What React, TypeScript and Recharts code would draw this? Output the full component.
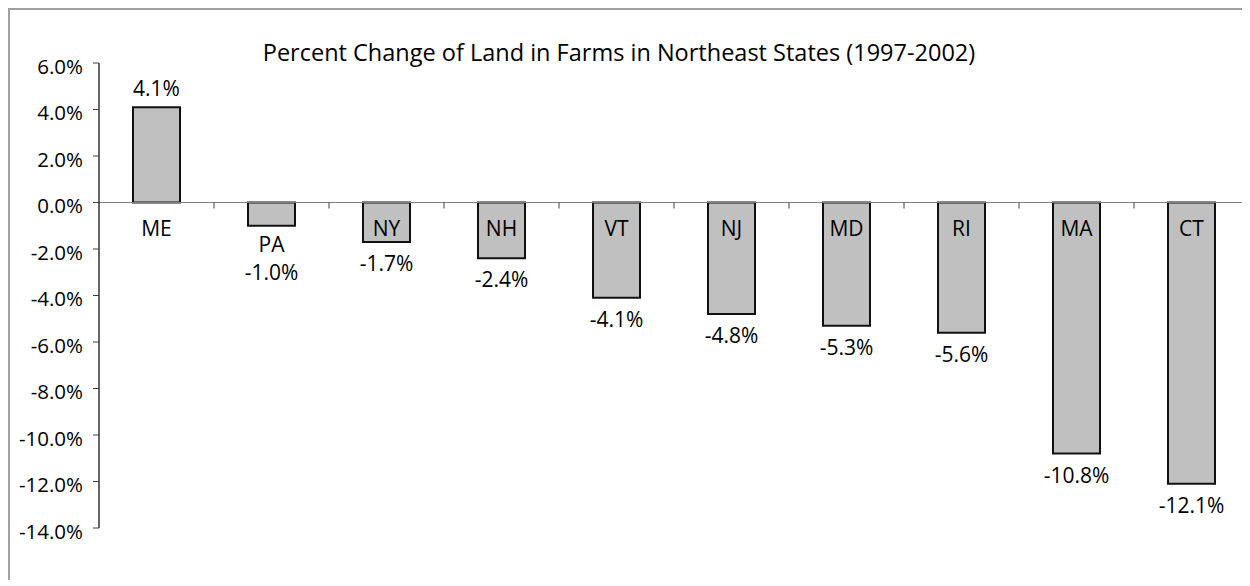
import { BarChart, Bar, XAxis, YAxis, ReferenceLine, LabelList } from 'recharts';

const states = ['ME', 'PA', 'NY', 'NH', 'VT', 'NJ', 'MD', 'RI', 'MA', 'CT'];
const changes = [4.1, -1.0, -1.7, -2.4, -4.1, -4.8, -5.3, -5.6, -10.8, -12.1];
const yTicks = [6, 4, 2, 0, -2, -4, -6, -8, -10, -12, -14];
const title = 'Percent Change of Land in Farms in Northeast States (1997-2002)';

const data = states.map((state, i) => ({ state, change: changes[i] }));

const FONT = '"Open Sans", sans-serif';

const fmt = (v: number) => `${v.toFixed(1)}%`;

const renderYTick = ({ x, y, payload }: any) => (
  <text x={x} y={y} dy={10.5} textAnchor="end" fontSize={20.5} fontFamily={FONT} fill="#000">
    {fmt(payload.value)}
  </text>
);

// zero line with the category tick marks hanging below it
const ZeroAxis = (props: any) => {
  const { x1, y1, x2 } = props;
  const step = (x2 - x1) / states.length;
  return (
    <g>
      <line x1={x1} y1={y1} x2={x2 + 2} y2={y1} stroke="#808080" strokeWidth={1.2} />
      {states.map((s, i) => (
        <line
          key={s}
          x1={x1 + step * (i + 1)}
          y1={y1}
          x2={x1 + step * (i + 1)}
          y2={y1 + 6}
          stroke="#404040"
          strokeWidth={1}
        />
      ))}
    </g>
  );
};

// PA's bar is too short to hold its name, so the name and value sit below it
const shortBar = 'PA';

const renderValueLabel = (props: any) => {
  const { x, y, width, height, value, index } = props;
  const top = Math.min(y, y + height);
  const bottom = Math.max(y, y + height);
  const nudge = states[index] === shortBar ? 25 : 0;
  const ty = value >= 0 ? top - 11.5 : bottom + 29 + nudge;
  return (
    <text x={x + width / 2} y={ty} textAnchor="middle" fontSize={21} fontFamily={FONT} fill="#000">
      {fmt(value)}
    </text>
  );
};

const renderStateLabel = (props: any) => {
  const { x, y, width, height, value, index } = props;
  const top = Math.min(y, y + height);
  const bottom = Math.max(y, y + height);
  const zero = changes[index] >= 0 ? bottom : top;
  const nudge = value === shortBar ? 16 : 0;
  return (
    <text x={x + width / 2} y={zero + 33 + nudge} textAnchor="middle" fontSize={21} fontFamily={FONT} fill="#000">
      {value}
    </text>
  );
};

export default function App() {
  return (
    <div
      style={{
        position: 'relative',
        width: 1240,
        height: 570,
        borderLeft: '2px solid #a0a0a0',
        borderTop: '2px solid #a0a0a0',
        background: '#fff',
        overflow: 'hidden',
      }}
    >
      <div
        style={{
          position: 'absolute',
          left: 0,
          top: 31,
          width: 1218,
          textAlign: 'center',
          fontFamily: FONT,
          fontSize: 23.5,
          lineHeight: '23.5px',
          color: '#000',
          whiteSpace: 'nowrap',
        }}
      >
        {title}
      </div>
      <BarChart
        width={1240}
        height={568}
        data={data}
        margin={{ top: 53, right: 1, bottom: 50, left: 0 }}
      >
        <XAxis dataKey="state" hide />
        <YAxis
          type="number"
          domain={[-14, 6]}
          ticks={yTicks}
          interval={0}
          width={89}
          tickSize={6}
          tickMargin={10}
          axisLine={{ stroke: '#000', strokeWidth: 1.2 }}
          tickLine={{ stroke: '#404040' }}
          tick={renderYTick}
        />
        <ReferenceLine y={0} shape={<ZeroAxis />} />
        <Bar
          dataKey="change"
          fill="#c0c0c0"
          stroke="#111"
          strokeWidth={2}
          barSize={47}
          isAnimationActive={false}
        >
          <LabelList dataKey="change" content={renderValueLabel} />
          <LabelList dataKey="state" content={renderStateLabel} />
        </Bar>
      </BarChart>
    </div>
  );
}
